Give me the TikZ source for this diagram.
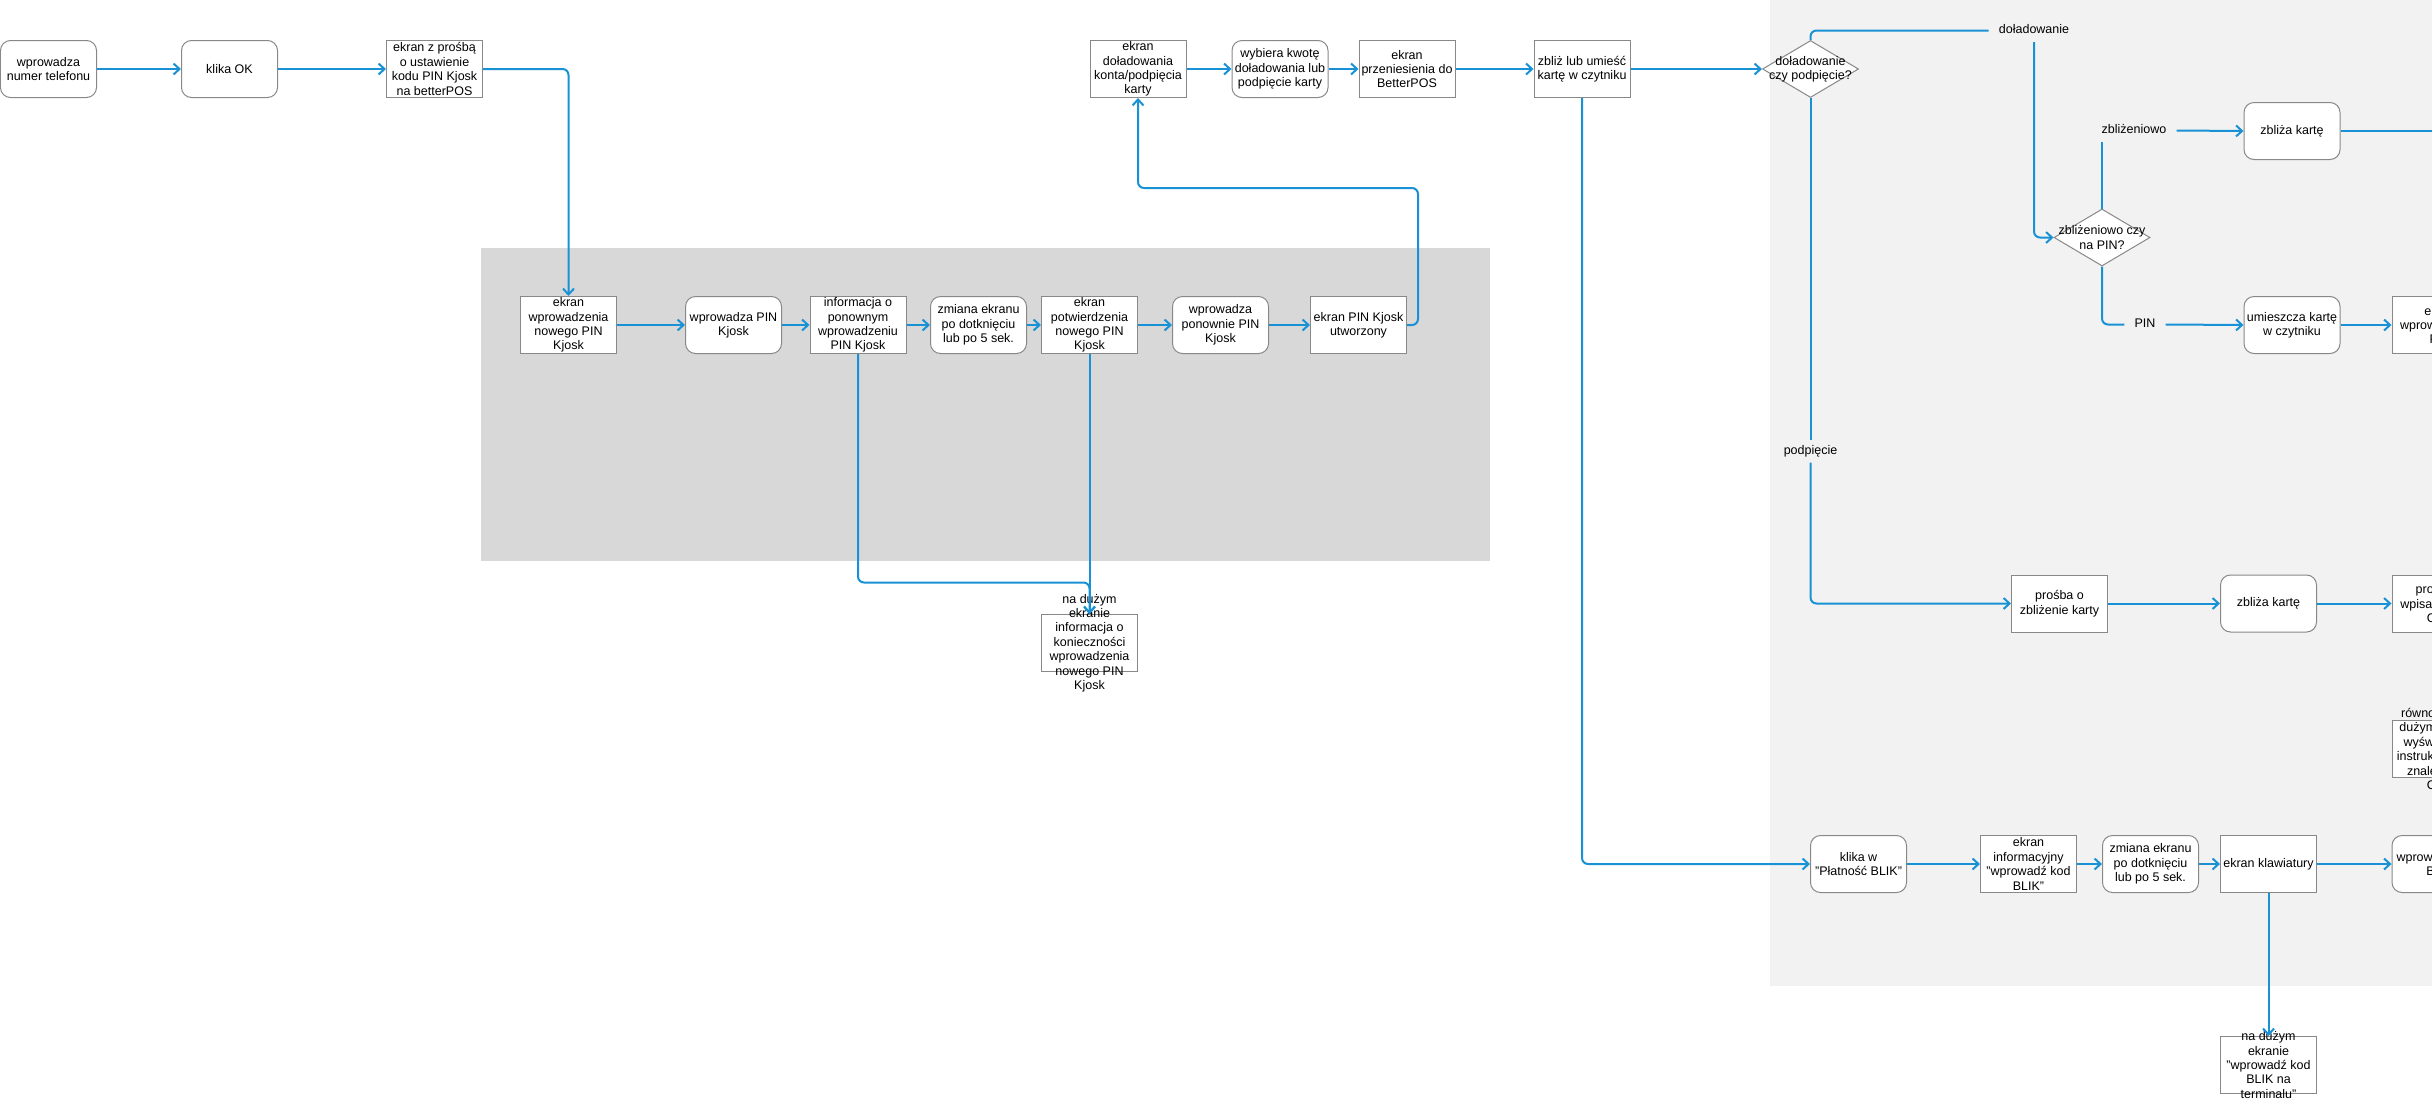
\documentclass[tikz,border=0pt]{standalone}
\usepackage{fontspec}
\setmainfont{Liberation Sans}
\usetikzlibrary{arrows.meta,shapes.geometric}
\definecolor{flow}{RGB}{24,146,212}
\definecolor{frame}{RGB}{136,136,136}
\definecolor{panelA}{RGB}{216,216,216}
\definecolor{panelB}{RGB}{242,242,242}

\begin{document}
\begin{tikzpicture}[
  x=1bp,
  y=-1bp,
  font=\fontsize{12.5bp}{14.4bp}\selectfont,
  box/.style={draw=frame,line width=1bp,fill=white,align=center,
    minimum width=96bp,minimum height=57bp,inner xsep=1bp,inner ysep=0pt},
  rbox/.style={box,rounded corners=10bp},
  txt/.style={align=center,inner sep=0pt},
  ovbox/.style={box,label={[txt]center:{#1}}},
  dec/.style={diamond,draw=frame,line width=1bp,fill=white,
    minimum width=96bp,minimum height=57bp,inner sep=0pt},
  lbl/.style={inner xsep=10bp,inner ysep=5.5bp,text height=9bp,text depth=2.6bp},
  wire/.style={draw=flow,line width=2bp,rounded corners=6bp},
  arr/.style={wire,-{Straight Barb[length=6bp,width=11bp]}}
]
  \useasboundingbox (0,0) rectangle (2432,1108);
  \clip (0,0) rectangle (2432,1108);

  % Background panels.
  \fill[white] (0,0) rectangle (2432,1108);
  \fill[panelA] (481,248) rectangle (1490,561);
  \fill[panelB] (1770,0) rectangle (2432,986);

  % Top row.
  \node[rbox] (tel) at (48.5,69) {wprowadza\\numer telefonu};
  \node[rbox] (ok) at (229.5,69) {klika OK};
  \node[box] (prosba) at (434.5,69) {ekran z prośbą\\o ustawienie\\kodu PIN Kjosk\\na betterPOS};
  \node[box] (dolek) at (1138,69) {ekran\\doładowania\\konta/podpięcia\\karty};
  \node[rbox] (kwota) at (1280,69) {wybiera kwotę\\doładowania lub\\podpięcie karty};
  \node[box] (przen) at (1407,69) {ekran\\przeniesienia do\\BetterPOS};
  \node[box] (czyt) at (1582,69) {zbliż lub umieść\\kartę w czytniku};
  \node[dec,label={[txt]center:{doładowanie\\czy podpięcie?}}] (typ) at (1810.5,69) {};

  % PIN Kjosk row.
  \node[box] (nowy) at (568.5,325) {ekran\\wprowadzenia\\nowego PIN\\Kjosk};
  \node[rbox] (pin1) at (733.5,325) {wprowadza PIN\\Kjosk};
  \node[box] (pon) at (858,325) {informacja o\\ponownym\\wprowadzeniu\\PIN Kjosk};
  \node[rbox] (zmA) at (978.5,325) {zmiana ekranu\\po dotknięciu\\lub po 5 sek.};
  \node[box] (potw) at (1089.5,325) {ekran\\potwierdzenia\\nowego PIN\\Kjosk};
  \node[rbox] (pin2) at (1220.5,325) {wprowadza\\ponownie PIN\\Kjosk};
  \node[box] (utw) at (1358.5,325) {ekran PIN Kjosk\\utworzony};
  \node[ovbox={na dużym\\ekranie\\informacja o\\konieczności\\wprowadzenia\\nowego PIN\\Kjosk}] (blad) at (1089.5,643) {};

  % Card branch.
  \node[lbl] (dol) at (2034,30.5) {doładowanie};
  \node[dec,label={[txt]center:{zbliżeniowo czy\\na PIN?}}] (typ2) at (2102,237.5) {};
  \node[lbl] (zbl) at (2134,130.5) {zbliżeniowo};
  \node[rbox] (zbK1) at (2292,131) {zbliża kartę};
  \coordinate (zbOut) at (2440,131);
  \node[lbl] (pin) at (2145,324.5) {PIN};
  \node[rbox] (umie) at (2292,325) {umieszcza kartę\\w czytniku};
  \node[box] (wpin) at (2440,325) {ekran\\wprowadzenia\\PIN};
  \node[lbl] (pod) at (1810.5,451) {podpięcie};
  \node[box] (prZb) at (2059.5,603.5) {prośba o\\zbliżenie karty};
  \node[rbox] (zbK2) at (2268.5,603.5) {zbliża kartę};
  \node[box] (cvc) at (2440,603.5) {prośba o\\wpisanie kodu\\CVC};
  \node[ovbox={równolegle na\\dużym ekranie\\wyświetla się\\instrukcja gdzie\\znaleźć kod\\CVC}] (instr) at (2440,749) {};

  % BLIK row.
  \node[rbox] (blik) at (1858.5,864) {klika w\\"Płatność BLIK"};
  \node[box] (binf) at (2028.5,864) {ekran\\informacyjny\\"wprowadź kod\\BLIK"};
  \node[rbox] (zmB) at (2150.5,864) {zmiana ekranu\\po dotknięciu\\lub po 5 sek.};
  \node[box] (klaw) at (2268.5,864) {ekran klawiatury};
  \node[rbox] (wkod) at (2440,864) {wprowadza kod\\BLIK};
  \node[ovbox={na dużym\\ekranie\\"wprowadź kod\\BLIK na\\terminalu"}] (term) at (2268.5,1065) {};

  % Straight runs.
  \foreach \a/\b in {tel/ok,ok/prosba,dolek/kwota,kwota/przen,przen/czyt,czyt/typ,
    nowy/pin1,pin1/pon,pon/zmA,zmA/potw,potw/pin2,pin2/utw,
    umie/wpin,prZb/zbK2,zbK2/cvc,blik/binf,binf/zmB,zmB/klaw,klaw/wkod} {
    \draw[arr] (\a.east) -- (\b.west);
  }

  % Bent connectors.
  \coordinate (powrot) at (1418,188);
  \coordinate (zbieg) at (1089.5,582.5);
  \draw[arr] (prosba.east) -| (nowy.north);
  \draw[arr] (utw.east) -| (powrot) -| (dolek.south);
  \draw[arr] (pon.south) |- (zbieg) -- (blad.north);
  \draw[arr] (potw.south) -- (blad.north);
  \draw[wire] (typ.north) |- (dol.west);
  \draw[arr] (dol.south) |- (typ2.west);
  \draw[wire] (typ2.north) -- (typ2.north |- zbl.south);
  \draw[arr] (zbl.east) -- (zbK1.west);
  \draw[wire] (zbK1.east) -- (zbOut);
  \draw[wire] (typ2.south) |- (pin.west);
  \draw[arr] (pin.east) -- (umie.west);
  \draw[wire] (typ.south) -- (pod.north);
  \draw[arr] (pod.south) |- (prZb.west);
  \draw[arr] (czyt.south) |- (blik.west);
  \draw[arr] (klaw.south) -- (term.north);
\end{tikzpicture}
\end{document}
